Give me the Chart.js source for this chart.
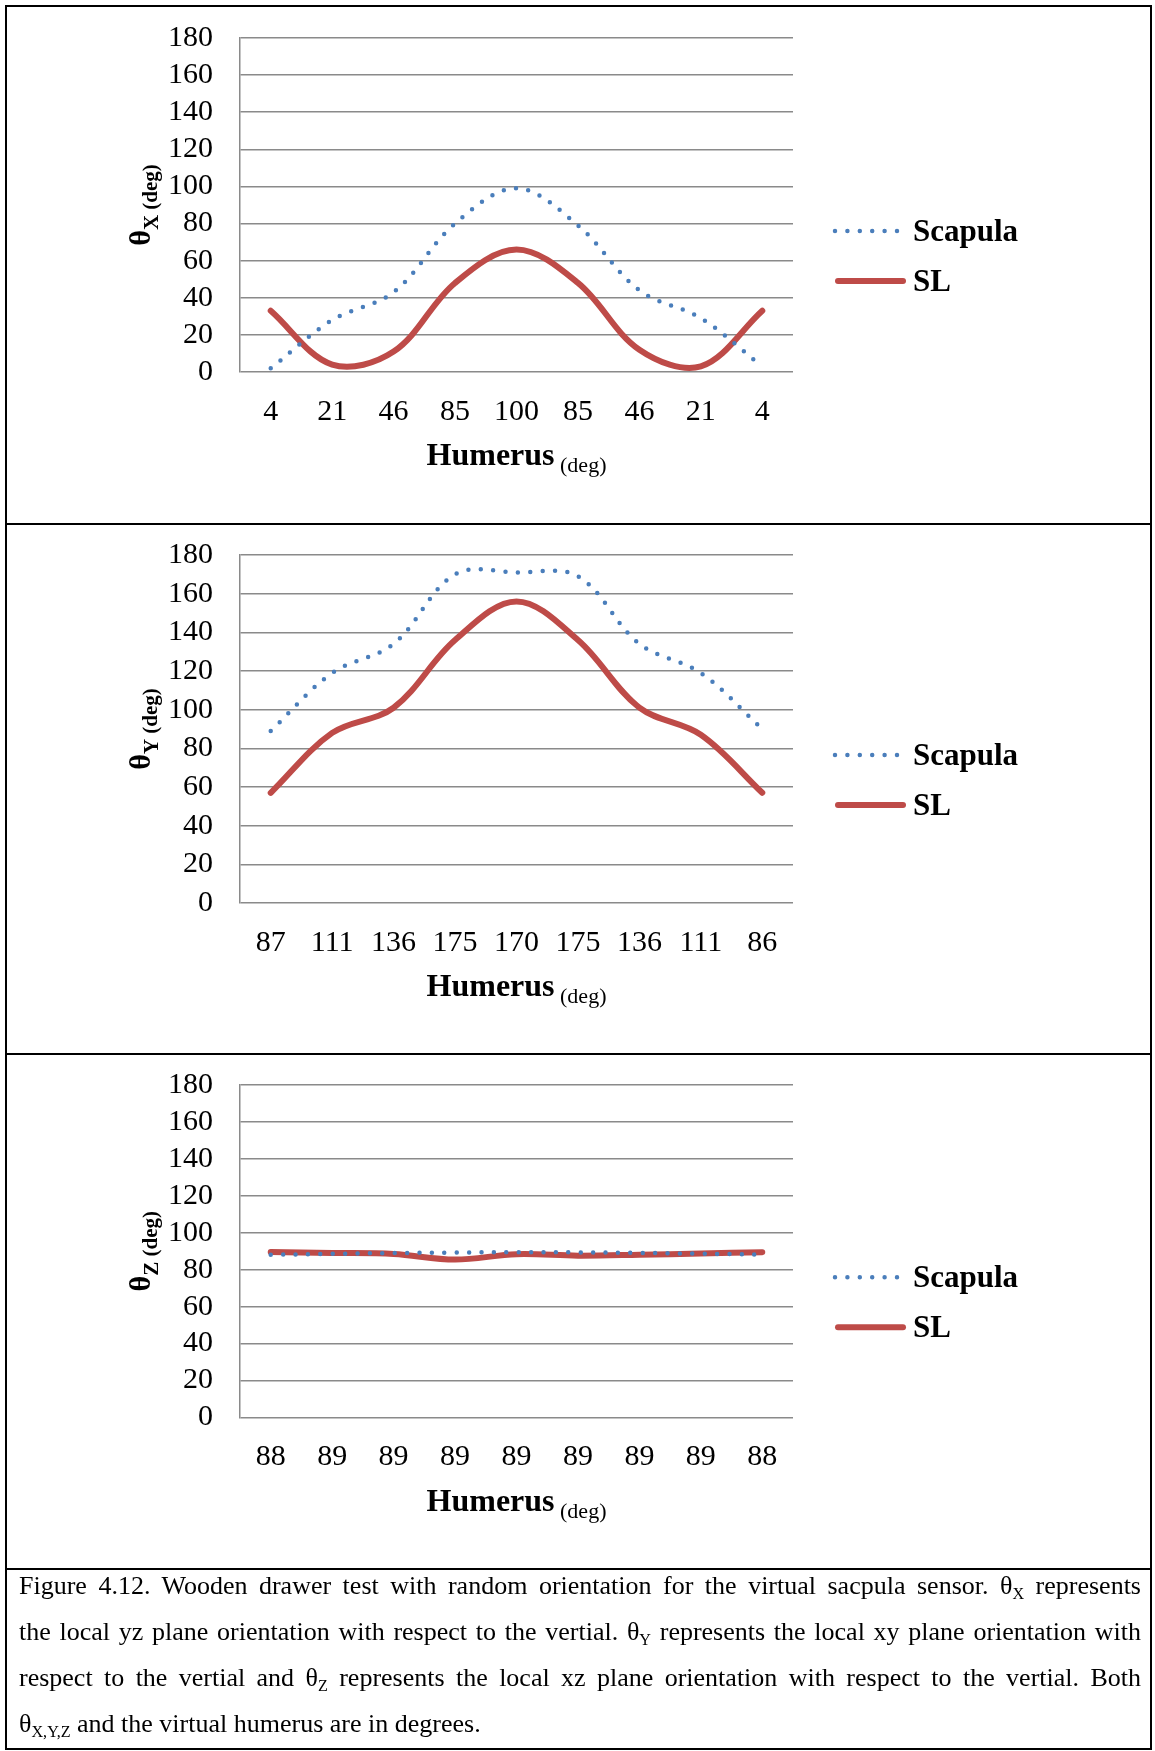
<!DOCTYPE html>
<html>
<head>
<meta charset="utf-8">
<title>Figure 4.12</title>
<script src="https://cdn.jsdelivr.net/npm/chart.js@4.4.1/dist/chart.umd.min.js"></script>
<style>
  html, body { margin: 0; padding: 0; background: #fff; }
  body { width: 1155px; height: 1751px; position: relative; overflow: hidden;
         font-family: "Liberation Serif", "Times New Roman", serif; color: #000; }
  .frame { position: absolute; left: 5px; top: 5px; width: 1143px; height: 1741px; border: 2px solid #000; }
  .rule { position: absolute; left: 5px; width: 1147px; height: 2px; background: #000; }
  .panel { position: absolute; left: 7px; }
  .caption { position: absolute; left: 19px; width: 1122px; top: 1563px; font-size: 26px; line-height: 46px; }
  .caption div { text-align: justify; text-align-last: justify; }
  .caption div.last { text-align-last: left; }
  .caption sub { font-size: 0.62em; line-height: 0; vertical-align: -0.3em; }
</style>
</head>
<body>
<div class="frame"></div>
<div class="rule" style="top:523px"></div>
<div class="rule" style="top:1053px"></div>
<div class="rule" style="top:1568px"></div>

<canvas id="chartX" class="panel" style="top:7px" width="1142" height="516"></canvas>
<canvas id="chartY" class="panel" style="top:525px" width="1142" height="528"></canvas>
<canvas id="chartZ" class="panel" style="top:1055px" width="1142" height="513"></canvas>

<div class="caption">
  <div>Figure 4.12. Wooden drawer test with random orientation for the virtual sacpula sensor. θ<sub>X</sub> represents</div>
  <div>the local yz plane orientation with respect to the vertial. θ<sub>Y</sub> represents the local xy plane orientation with</div>
  <div>respect to the vertial and θ<sub>Z</sub> represents the local xz plane orientation with respect to the vertial. Both</div>
  <div class="last">θ<sub>X,Y,Z</sub> and the virtual humerus are in degrees.</div>
</div>

<script>
// humerus angles shown under each panel
const humerusX = ['4', '21', '46', '85', '100', '85', '46', '21', '4'];
const humerusY = ['87', '111', '136', '175', '170', '175', '136', '111', '86'];
const humerusZ = ['88', '89', '89', '89', '89', '89', '89', '89', '88'];

// theta X
const scapulaX = [2, 28, 43, 80, 99, 79, 44, 29, 3];
const slX = [33, 4, 11, 48, 66, 48, 12, 3, 33];

// theta Y
const scapulaY = [89, 119, 134, 170, 171, 169, 134, 119, 90];
const slY = [57, 88, 101, 136, 156, 136, 101, 87, 57];

// theta Z
const scapulaZ = [88.1, 88.6, 89, 89.3, 89.5, 89.4, 89.1, 88.7, 88.2];
const slZ = [89.6, 89.1, 88.5, 85.5, 88.4, 87.6, 88.1, 88.8, 89.5];

const yTicks = [0, 20, 40, 60, 80, 100, 120, 140, 160, 180];

const SERIF = '"Liberation Serif", "Times New Roman", serif';
Chart.defaults.font.family = SERIF;
Chart.defaults.color = '#000';

const GRID = '#8a8a8a';

// titles + legend, drawn the way the original (Excel) figure had them
const decorPlugin = {
  id: 'decor',
  afterDraw(chart, args, opts) {
    const ctx = chart.ctx;
    const a = chart.chartArea;
    const midY = (a.top + a.bottom) / 2;
    ctx.save();
    ctx.fillStyle = '#000';
    ctx.textBaseline = 'alphabetic';
    ctx.textAlign = 'left';

    // x title: Humerus (deg)
    ctx.font = 'bold 32px ' + SERIF;
    const w1 = ctx.measureText('Humerus').width;
    ctx.font = '22px ' + SERIF;
    const gap = ctx.measureText(' ').width;
    const w2 = ctx.measureText('(deg)').width;
    let x = (a.left + a.right) / 2 - (w1 + gap + w2) / 2;
    const base = a.bottom + 93;
    ctx.font = 'bold 32px ' + SERIF;
    ctx.fillText('Humerus', x, base);
    ctx.font = '22px ' + SERIF;
    ctx.fillText('(deg)', x + w1 + gap, base + 7);

    // y title: θx (deg), rotated
    ctx.save();
    ctx.translate(0, midY);
    ctx.rotate(-Math.PI / 2);
    ctx.font = 'bold 30px ' + SERIF;
    const t1 = ctx.measureText('θ').width;
    ctx.font = 'bold 21px ' + SERIF;
    const t2 = ctx.measureText(opts.sub).width;
    const sp = ctx.measureText(' ').width;
    const t3 = ctx.measureText('(deg)').width;
    let tx = -(t1 + t2 + sp + t3) / 2;
    ctx.font = 'bold 30px ' + SERIF;
    ctx.fillText('θ', tx, 143);
    ctx.font = 'bold 21px ' + SERIF;
    ctx.fillText(opts.sub, tx + t1, 151);
    ctx.fillText('(deg)', tx + t1 + t2 + sp, 150);
    ctx.restore();

    // legend
    chart.data.datasets.forEach((ds, i) => {
      const rowY = midY + 26 + 50 * i;
      const x0 = a.right + 42;
      ctx.save();
      ctx.strokeStyle = ds.borderColor;
      ctx.lineWidth = ds.borderWidth;
      ctx.lineCap = 'round';
      ctx.setLineDash(ds.borderDash || []);
      ctx.beginPath();
      if (ds.borderDash) {
        ctx.moveTo(x0, rowY);
        ctx.lineTo(x0 + 62.5, rowY);
      } else {
        ctx.moveTo(x0 + 3, rowY);
        ctx.lineTo(x0 + 68, rowY);
      }
      ctx.stroke();
      ctx.restore();
      ctx.font = 'bold 31px ' + SERIF;
      ctx.fillText(ds.label, a.right + 120, rowY + 10);
    });
    ctx.restore();
  }
};

function makeChart(id, labels, scapula, sl, sub, top, bottom) {
  const canvas = document.getElementById(id);
  const H = canvas.height;
  return new Chart(canvas, {
    type: 'line',
    data: {
      labels: labels,
      datasets: [{
        label: 'Scapula',
        data: scapula,
        borderColor: '#4a7ebb',
        borderWidth: 4.5,
        borderDash: [0, 12.4],
        borderCapStyle: 'round',
        pointRadius: 0,
        tension: 0.35,
        clip: false
      }, {
        label: 'SL',
        data: sl,
        borderColor: '#be4b48',
        borderWidth: 6,
        borderCapStyle: 'round',
        borderJoinStyle: 'round',
        pointRadius: 0,
        tension: 0.35,
        clip: false
      }]
    },
    options: {
      responsive: false,
      animation: false,
      events: [],
      layout: {
        autoPadding: false,
        padding: { top: top, left: 0, right: 356, bottom: H - bottom - 100 }
      },
      plugins: {
        legend: { display: false },
        tooltip: { enabled: false },
        decor: { sub: sub }
      },
      scales: {
        x: {
          offset: true,
          grid: { display: false, drawTicks: false },
          border: { display: false },
          ticks: { font: { size: 30 }, padding: 22, maxRotation: 0, autoSkip: false },
          afterFit: (scale) => {
            scale.height = 100;
            scale.paddingLeft = 0;
            scale.paddingRight = 0;
          }
        },
        y: {
          min: yTicks[0],
          max: yTicks[yTicks.length - 1],
          grid: { color: GRID, lineWidth: 1.5, drawTicks: false },
          border: { display: true, color: GRID, width: 1.5 },
          ticks: { stepSize: yTicks[1] - yTicks[0], font: { size: 30 }, padding: 27, autoSkip: false },
          afterFit: (scale) => {
            scale.width = 233;
            scale.paddingTop = 0;
            scale.paddingBottom = 0;
          }
        }
      }
    },
    plugins: [decorPlugin]
  });
}

makeChart('chartX', humerusX, scapulaX, slX, 'X', 31, 365);
makeChart('chartY', humerusY, scapulaY, slY, 'Y', 30, 378);
makeChart('chartZ', humerusZ, scapulaZ, slZ, 'Z', 30, 362.5);
</script>
</body>
</html>
